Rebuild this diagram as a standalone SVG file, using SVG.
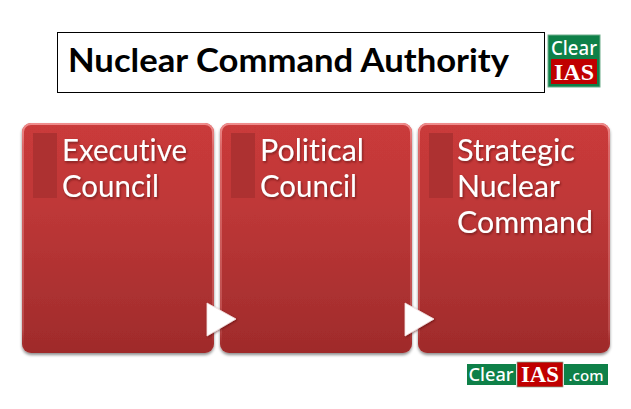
<svg xmlns="http://www.w3.org/2000/svg" width="631" height="409" viewBox="0 0 631 409">
<style>
text{font-variant-ligatures:none}
.card{fill:url(#cardFill);filter:url(#shadow)}
.rim{fill:none;stroke:url(#rimFill);stroke-width:2}
.tab{fill:#ad3131}
.lbl{font-family:Lato,"Open Sans",sans-serif;font-size:31px;fill:#fff;filter:url(#tshadow)}
.arrow{fill:#fff;stroke:#f6dede;stroke-width:0.800;filter:url(#ashadow)}
.logo1{font-family:"Noto Sans",sans-serif;font-weight:500;fill:#fff}
.logo2{font-family:"Liberation Serif",serif;font-weight:bold;fill:#fff}
</style>
<defs>
<linearGradient id="cardFill" x1="0" y1="0" x2="0" y2="1">
<stop offset="0" stop-color="#ca3a3a"/><stop offset="0.35" stop-color="#bf3838"/><stop offset="1" stop-color="#9f2b2b"/>
</linearGradient>
<linearGradient id="rimFill" x1="0" y1="0" x2="0" y2="1">
<stop offset="0" stop-color="#f08c8c"/><stop offset="0.1" stop-color="#e88a8a" stop-opacity="0.6"/><stop offset="0.9" stop-color="#e88a8a" stop-opacity="0.3"/><stop offset="1" stop-color="#a12c2c" stop-opacity="0"/>
</linearGradient>
<filter id="shadow" x="-5%" y="-5%" width="110%" height="110%"><feDropShadow dx="0" dy="2" stdDeviation="1.5" flood-color="#000" flood-opacity="0.45"/></filter>
<filter id="tshadow" x="-5%" y="-10%" width="110%" height="125%"><feDropShadow dx="1" dy="1.5" stdDeviation="0.8" flood-color="#4a0c0c" flood-opacity="0.6"/></filter>
<filter id="ashadow" x="-20%" y="-20%" width="140%" height="140%"><feDropShadow dx="1" dy="1" stdDeviation="1" flood-color="#400" flood-opacity="0.5"/></filter>
</defs>
<rect width="631" height="409" fill="#fff"/>
<g id="title">
<rect x="57.500" y="32.500" width="487" height="60" fill="#fff" stroke="#000" stroke-width="1"/>
<text x="68" y="72" font-family="Lato,'Open Sans',sans-serif" font-weight="bold" font-size="33" fill="#000" textLength="441" lengthAdjust="spacingAndGlyphs">Nuclear Command Authority</text>
</g>
<g id="logo-top">
<rect x="548" y="35" width="52" height="52" fill="#0e8048" stroke="#6fae8c" stroke-width="1"/>
<rect x="551" y="59" width="46" height="25" fill="#c00000"/>
<text x="574" y="55" class="logo1" font-size="19" text-anchor="middle" textLength="46" lengthAdjust="spacingAndGlyphs">Clear</text>
<text x="574" y="80" class="logo2" font-size="24" text-anchor="middle" textLength="40" lengthAdjust="spacingAndGlyphs">IAS</text>
</g>
<g id="node-executive">
<rect class="card" x="22" y="123" width="192" height="230" rx="9"/>
<rect class="rim" x="23" y="124" width="190" height="228" rx="8"/>
<rect class="tab" x="33" y="133" width="24" height="65"/>
<text class="lbl" x="62" y="161" textLength="125" lengthAdjust="spacingAndGlyphs">Executive</text>
<text class="lbl" x="62" y="197" textLength="97" lengthAdjust="spacingAndGlyphs">Council</text>
</g>
<g id="node-political">
<rect class="card" x="220" y="123" width="192" height="230" rx="9"/>
<rect class="rim" x="221" y="124" width="190" height="228" rx="8"/>
<rect class="tab" x="231" y="133" width="24" height="65"/>
<text class="lbl" x="260" y="161" textLength="104" lengthAdjust="spacingAndGlyphs">Political</text>
<text class="lbl" x="260" y="197" textLength="97" lengthAdjust="spacingAndGlyphs">Council</text>
</g>
<g id="node-strategic">
<rect class="card" x="418" y="123" width="192" height="230" rx="9"/>
<rect class="rim" x="419" y="124" width="190" height="228" rx="8"/>
<rect class="tab" x="429" y="133" width="24" height="65"/>
<text class="lbl" x="457" y="161" textLength="118" lengthAdjust="spacingAndGlyphs">Strategic</text>
<text class="lbl" x="457" y="197" textLength="103" lengthAdjust="spacingAndGlyphs">Nuclear</text>
<text class="lbl" x="457" y="233" textLength="136" lengthAdjust="spacingAndGlyphs">Command</text>
</g>
<g id="connectors">
<polygon class="arrow" points="207,303 236,319 207,336"/>
<polygon class="arrow" points="405,303 434,319 405,336"/>
</g>
<g id="logo-bottom">
<rect x="467" y="364" width="49" height="21" fill="#0e8048"/>
<rect x="517" y="362" width="46" height="25" fill="#c00000" stroke="#7fae96" stroke-width="0.700"/>
<rect x="564" y="364" width="44" height="21" fill="#0e8048"/>
<text x="491" y="381" class="logo1" font-size="18" text-anchor="middle" textLength="45" lengthAdjust="spacingAndGlyphs">Clear</text>
<text x="540" y="382" class="logo2" font-size="23" text-anchor="middle" textLength="38" lengthAdjust="spacingAndGlyphs">IAS</text>
<text x="586" y="381" class="logo1" font-size="15" text-anchor="middle" textLength="35" lengthAdjust="spacingAndGlyphs">.com</text>
</g>
</svg>
